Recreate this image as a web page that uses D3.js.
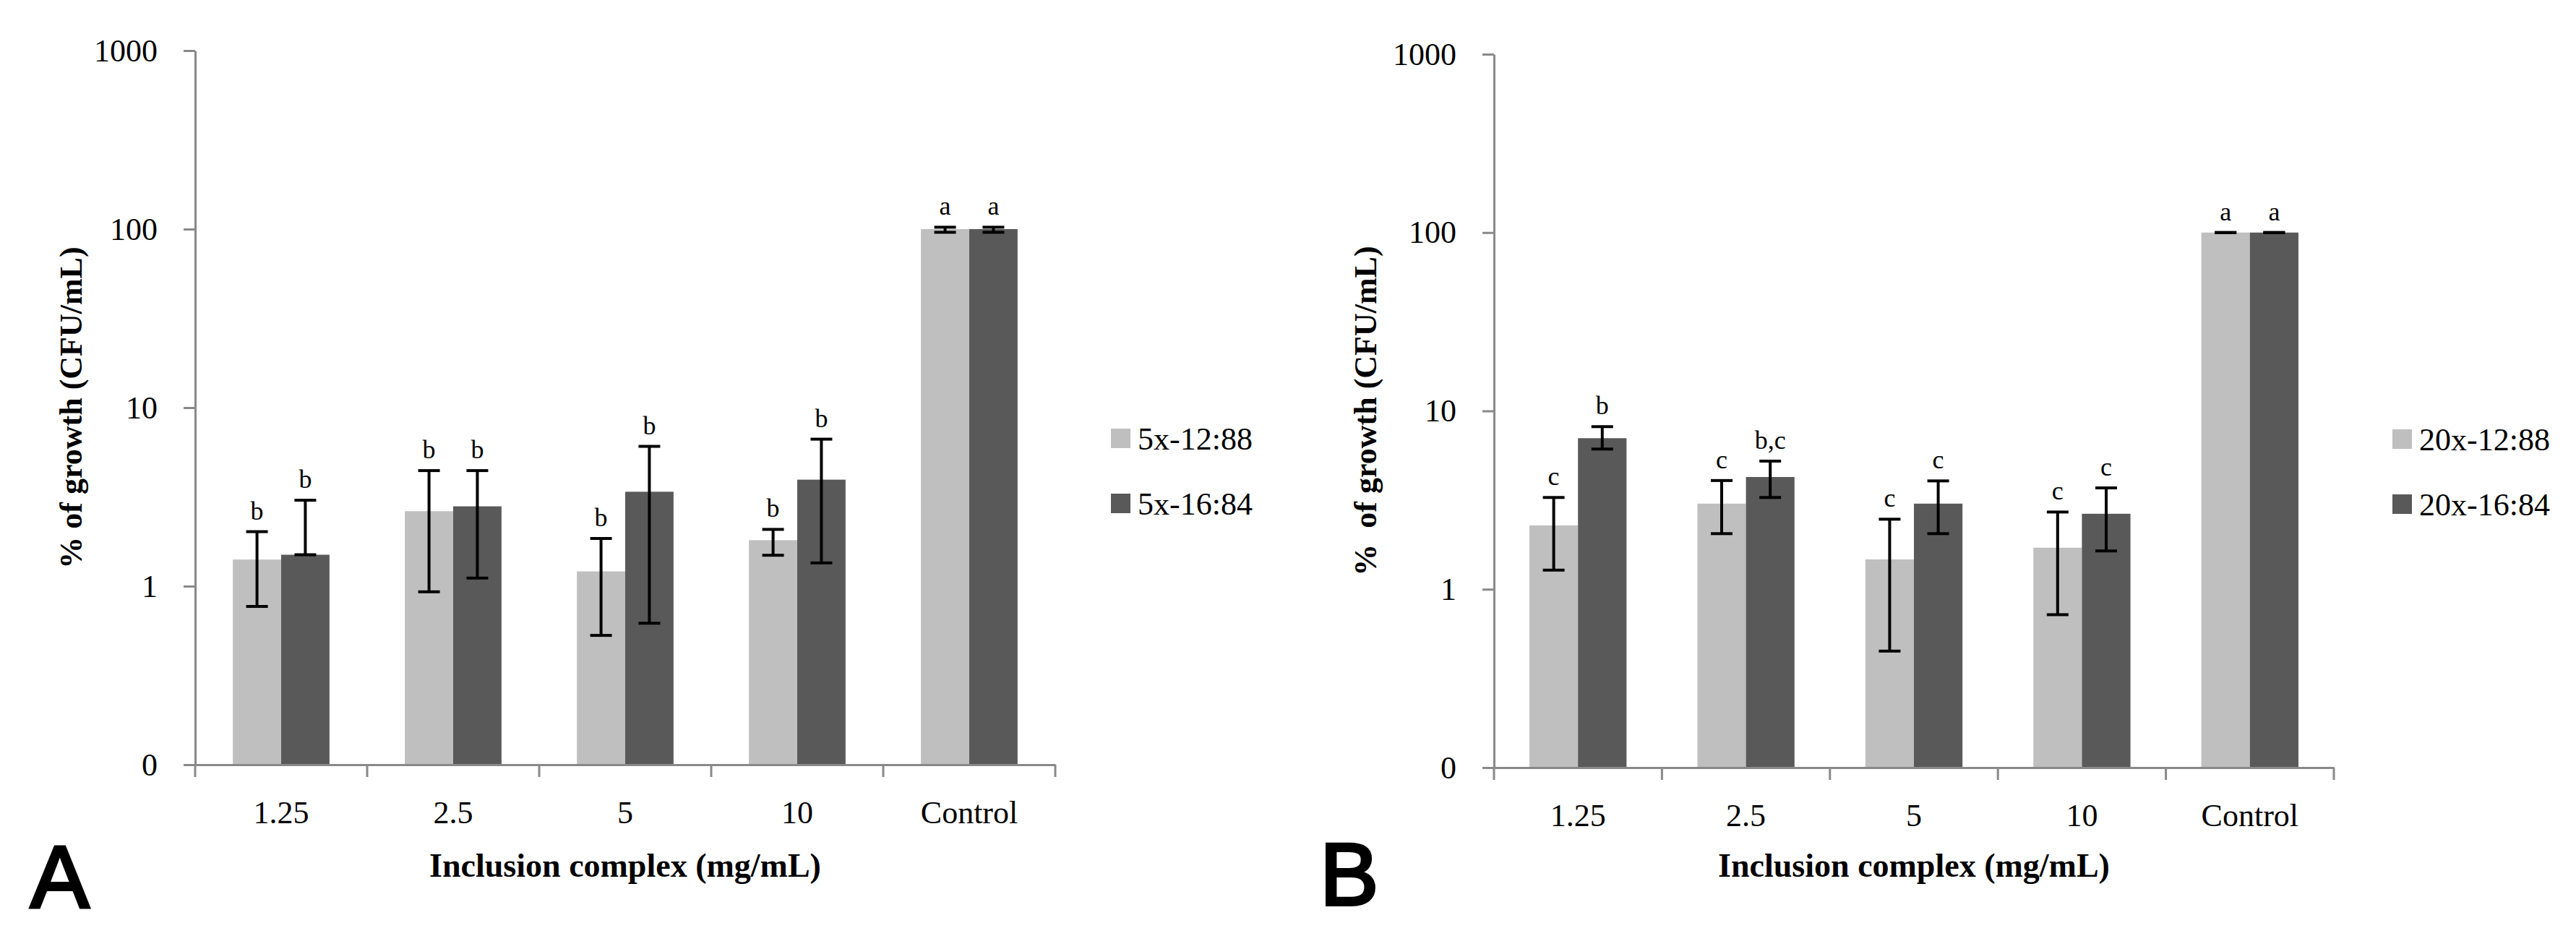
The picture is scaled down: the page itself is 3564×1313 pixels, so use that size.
<!DOCTYPE html>
<html>
<head>
<meta charset="utf-8">
<script src="https://cdn.jsdelivr.net/npm/d3@7"></script>
<style>
  body { margin: 0; background: #fff; }
  svg { display: block; }
</style>
</head>
<body>
<div id="chart"></div>
<script>
// ---- dados ----
const categories = ["1.25", "2.5", "5", "10", "Control"];
const yTicks = [0.1, 1, 10, 100, 1000];
const yTickLabels = ["0", "1", "10", "100", "1000"];

// Painel A
const seriesA = ["5x-12:88", "5x-16:84"];
const valuesA1 = [1.41, 2.63, 1.21, 1.81, 100];
const highA1   = [2.02, 4.44, 1.85, 2.08, 102.5];
const lowA1    = [0.77, 0.93, 0.53, 1.49, 96];
const lettersA1 = ["b", "b", "b", "b", "a"];
const valuesA2 = [1.50, 2.80, 3.38, 3.95, 100];
const highA2   = [3.03, 4.44, 6.07, 6.66, 102.5];
const lowA2    = [1.50, 1.11, 0.62, 1.35, 96];
const lettersA2 = ["b", "b", "b", "b", "a"];

// Painel B
const seriesB = ["20x-12:88", "20x-16:84"];
const valuesB1 = [2.28, 3.02, 1.47, 1.71, 100];
const highB1   = [3.27, 4.07, 2.47, 2.71, 100];
const lowB1    = [1.28, 2.05, 0.45, 0.72, 100];
const lettersB1 = ["c", "c", "c", "c", "a"];
const valuesB2 = [7.03, 4.26, 3.02, 2.65, 100];
const highB2   = [8.16, 5.23, 4.05, 3.70, 100];
const lowB2    = [6.11, 3.27, 2.05, 1.64, 100];
const lettersB2 = ["b", "b,c", "c", "c", "a"];

// ---- estilo ----
const colors = ["#bfbfbf", "#595959"];
const axisColor = "#898989";
const serif = "'Liberation Serif', 'Times New Roman', serif";

const svg = d3.select("#chart")
    .append("svg")
    .attr("width", 3564)
    .attr("height", 1313);

function drawPanel(cfg) {
    const g = svg.append("g");

    const x0 = d3.scaleBand()
        .domain(categories)
        .range([cfg.left, cfg.right])
        .padding(0);

    // duas barras por categoria, centradas
    const x1 = d3.scaleBand()
        .domain([0, 1])
        .range([0, x0.bandwidth()])
        .paddingInner(0)
        .paddingOuter(cfg.outerPad);

    const y = d3.scaleLog()
        .domain([0.1, 1000])
        .range([cfg.bottom, cfg.top]);

    // Barras
    cfg.series.forEach((s, si) => {
        const rows = categories.map((c, i) => ({
            cat: c, v: s.values[i], hi: s.high[i], lo: s.low[i], letter: s.letters[i]
        }));
        const cx = d => x0(d.cat) + x1(si) + x1.bandwidth() / 2;

        g.append("g").selectAll("rect")
            .data(rows)
            .join("rect")
            .attr("x", d => x0(d.cat) + x1(si))
            .attr("width", x1.bandwidth())
            .attr("y", d => y(d.v))
            .attr("height", d => y(0.1) - y(d.v))
            .attr("fill", colors[si]);

        // barras de erro
        const eb = g.append("g")
            .attr("stroke", "#000")
            .attr("stroke-width", 4);
        eb.selectAll("line.v")
            .data(rows)
            .join("line")
            .attr("class", "v")
            .attr("x1", cx).attr("x2", cx)
            .attr("y1", d => y(d.lo)).attr("y2", d => y(d.hi));
        eb.selectAll("line.hi")
            .data(rows)
            .join("line")
            .attr("class", "hi")
            .attr("x1", d => cx(d) - 15).attr("x2", d => cx(d) + 15)
            .attr("y1", d => y(d.hi)).attr("y2", d => y(d.hi));
        eb.selectAll("line.lo")
            .data(rows)
            .join("line")
            .attr("class", "lo")
            .attr("x1", d => cx(d) - 15).attr("x2", d => cx(d) + 15)
            .attr("y1", d => y(d.lo)).attr("y2", d => y(d.lo));

        // letras de significância
        g.append("g").selectAll("text")
            .data(rows)
            .join("text")
            .attr("x", cx)
            .attr("y", d => y(d.hi) - 17)
            .attr("text-anchor", "middle")
            .style("font-family", serif)
            .style("font-size", "36px")
            .text(d => d.letter);
    });

    // Eixo Y (log)
    const yAxis = g.append("g")
        .attr("transform", `translate(${cfg.left},0)`)
        .call(d3.axisLeft(y)
            .tickValues(yTicks)
            .tickFormat((d, i) => yTickLabels[i])
            .tickSize(16)
            .tickSizeOuter(0)
            .tickPadding(36));

    // Eixo X: rótulos no centro, marcas nas divisões
    const xAxis = g.append("g")
        .attr("transform", `translate(0,${cfg.bottom})`)
        .call(d3.axisBottom(x0).tickSize(0).tickPadding(50).tickSizeOuter(0));

    const bounds = categories.map(c => x0(c)).concat([x0(categories[categories.length - 1]) + x0.bandwidth()]);
    xAxis.selectAll("line.div")
        .data(bounds)
        .join("line")
        .attr("class", "div")
        .attr("x1", d => d).attr("x2", d => d)
        .attr("y1", 0).attr("y2", 17)
        .attr("stroke", axisColor)
        .attr("stroke-width", 3);

    [yAxis, xAxis].forEach(a => {
        a.selectAll("path, line").attr("stroke", axisColor).attr("stroke-width", 3);
        a.selectAll("text")
            .attr("fill", "#000")
            .style("font-family", serif)
            .style("font-size", "44px");
    });

    // Títulos dos eixos
    g.append("text")
        .attr("x", (cfg.left + cfg.right) / 2)
        .attr("y", 1213)
        .attr("text-anchor", "middle")
        .style("font-family", serif)
        .style("font-size", "46px")
        .style("font-weight", "bold")
        .text("Inclusion complex (mg/mL)");

    g.append("text")
        .attr("transform", `translate(${cfg.yTitleX},${(cfg.top + cfg.bottom) / 2}) rotate(-90)`)
        .attr("text-anchor", "middle")
        .style("font-family", serif)
        .style("font-size", "44px")
        .style("font-weight", "bold")
        .text(cfg.yTitle);

    // Legenda
    const leg = g.append("g").selectAll("g")
        .data(cfg.series)
        .join("g")
        .attr("transform", (d, i) => `translate(${cfg.legendX},${cfg.legendY + i * 90})`);
    leg.append("rect")
        .attr("width", 27).attr("height", 27)
        .attr("fill", (d, i) => colors[i]);
    leg.append("text")
        .attr("x", 37).attr("y", 29)
        .style("font-family", serif)
        .style("font-size", "44px")
        .text(d => d.name);

    // Letra do painel
    g.append("text")
        .attr("x", cfg.letterX)
        .attr("y", cfg.letterY)
        .attr("stroke", "#000")
        .attr("stroke-width", 4)
        .style("font-family", "'Liberation Sans', Arial, sans-serif")
        .style("font-size", "122px")
        .text(cfg.letter);
}

drawPanel({
    left: 270, right: 1460, top: 70, bottom: 1058, outerPad: 0.78,
    series: [
        {name: seriesA[0], values: valuesA1, high: highA1, low: lowA1, letters: lettersA1},
        {name: seriesA[1], values: valuesA2, high: highA2, low: lowA2, letters: lettersA2}
    ],
    yTitle: "% of growth (CFU/mL)", yTitleX: 113,
    legendX: 1537, legendY: 593,
    letter: "A", letterX: 42, letterY: 1256
});

drawPanel({
    left: 2067, right: 3229, top: 75, bottom: 1062, outerPad: 0.73,
    series: [
        {name: seriesB[0], values: valuesB1, high: highB1, low: lowB1, letters: lettersB1},
        {name: seriesB[1], values: valuesB2, high: highB2, low: lowB2, letters: lettersB2}
    ],
    yTitle: "%\u00a0\u00a0of growth (CFU/mL)", yTitleX: 1904,
    legendX: 3310, legendY: 594,
    letter: "B", letterX: 1826, letterY: 1252
});
</script>
</body>
</html>
